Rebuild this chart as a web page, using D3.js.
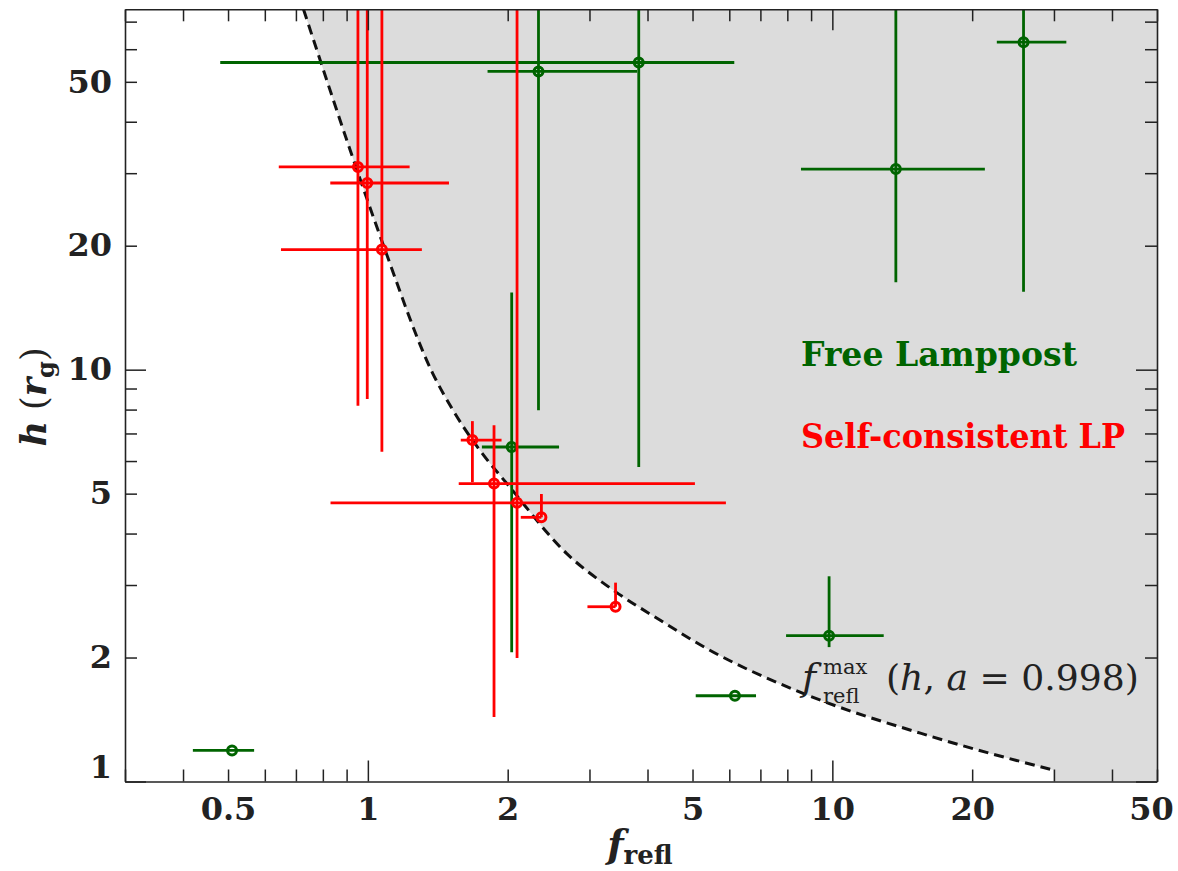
<!DOCTYPE html>
<html>
<head>
<meta charset="utf-8">
<script src="https://cdn.jsdelivr.net/npm/d3@7"></script>
<style>
  body { margin: 0; background: #fff; }
  svg { display: block; }
  text { fill: #222; }
</style>
</head>
<body>
<svg id="chart" width="1178" height="871"></svg>
<script>
// Free lamppost fits: reflection fraction, source height and their error ranges
const freeF   = [0.51, 6.17, 9.84, 2.04, 2.33, 3.83, 13.7, 25.8];
const freeH   = [1.19, 1.615, 2.26, 6.49, 53.0, 55.7, 30.7, 62.4];
const freeFLo = [0.42, 5.08, 7.95, 1.76, 1.81, 0.481, 8.56, 22.6];
const freeFHi = [0.569, 6.85, 12.9, 2.58, 3.80, 6.15, 21.3, 31.9];
const freeHLo = [1.19, 1.615, 2.12, 2.06, 7.97, 5.80, 16.3, 15.45];
const freeHHi = [1.19, 1.615, 3.15, 15.4, 100, 100, 100, 100];

// Self-consistent lamppost fits
const scF   = [0.952, 0.997, 1.072, 1.679, 1.869, 2.095, 2.364, 3.414];
const scH   = [31.06, 28.4, 19.57, 6.745, 5.29, 4.75, 4.38, 2.657];
const scFLo = [0.643, 0.83, 0.65, 1.585, 1.569, 0.831, 2.134, 2.97];
const scFHi = [1.23, 1.495, 1.307, 1.94, 5.06, 5.9, 2.364, 3.414];
const scHLo = [8.17, 8.49, 6.32, 5.33, 1.434, 1.994, 4.38, 2.657];
const scHHi = [100, 100, 100, 7.5, 7.33, 100, 4.99, 3.04];

// Maximum reflection fraction f_refl^max(h) for a = 0.998
const curveF = [0.727, 0.975, 1.086, 1.379, 1.525, 1.741, 2.02, 2.677, 3.373, 4.253, 5.36, 8.65, 16.38, 29.9];
const curveH = [74.9, 27.8, 19.7, 9.8, 7.97, 6.38, 5.19, 3.58, 2.916, 2.466, 2.105, 1.637, 1.285, 1.066];

// Axis ticks
const xTicks  = [0.3, 0.4, 0.5, 0.6, 0.7, 0.8, 0.9, 1, 2, 3, 4, 5, 6, 7, 8, 9, 10, 20, 30, 40, 50];
const xMajor  = [1, 10];
const xLabels = [0.5, 1, 2, 5, 10, 20, 50];
const yTicks  = [1, 2, 3, 4, 5, 6, 7, 8, 9, 10, 20, 30, 40, 50, 60, 70];
const yMajor  = [1, 10];
const yLabels = [1, 2, 5, 10, 20, 50];

const svg = d3.select("#chart");
const L = 125, R = 1157, T = 9.3, B = 781.5;
const x = d3.scaleLog().domain([0.3, 50]).range([L, R]);
const y = d3.scaleLog().domain([1, 75]).range([B, T]);

const GREEN = "#006400", RED = "#ff0000";

svg.append("defs").append("clipPath").attr("id", "plot")
  .append("rect").attr("x", L).attr("y", T).attr("width", R - L).attr("height", B - T);

const plot = svg.append("g").attr("clip-path", "url(#plot)");

// Excluded region beyond the maximum reflection fraction
const curvePts = curveF.map((f, i) => [f, curveH[i]]);
const line = d3.line().x(d => x(d[0])).y(d => y(d[1])).curve(d3.curveMonotoneX);
const endF = curveF[curveF.length - 1];
const corners = [[endF, 1], [50, 1], [50, 75]];
const shadePath = line(curvePts) + corners.map(c => "L" + x(c[0]) + "," + y(c[1])).join("") + "Z";
plot.append("path").attr("d", shadePath).attr("fill", "#dcdcdc").attr("stroke", "none");
plot.append("path").attr("d", line(curvePts)).attr("fill", "none")
  .attr("stroke", "#111").attr("stroke-width", 3).attr("stroke-dasharray", "10,6");

// Error bars and markers
function drawSeries(F, Hh, FLo, FHi, HLo, HHi, color) {
  const g = plot.append("g");
  const pts = F.map((f, i) => ({ f, h: Hh[i], fl: FLo[i], fh: FHi[i], hl: HLo[i], hh: HHi[i] }));
  g.selectAll(".xe").data(pts).join("line")
    .attr("x1", d => x(d.fl)).attr("x2", d => x(d.fh))
    .attr("y1", d => y(d.h)).attr("y2", d => y(d.h))
    .attr("stroke", color).attr("stroke-width", 2.8);
  g.selectAll(".ye").data(pts.filter(d => d.hh > d.hl)).join("line")
    .attr("x1", d => x(d.f)).attr("x2", d => x(d.f))
    .attr("y1", d => y(d.hl)).attr("y2", d => y(d.hh))
    .attr("stroke", color).attr("stroke-width", 2.8);
  g.selectAll("circle").data(pts).join("circle")
    .attr("cx", d => x(d.f)).attr("cy", d => y(d.h)).attr("r", 4.5)
    .attr("fill", "none").attr("stroke", color).attr("stroke-width", 3);
}
drawSeries(freeF, freeH, freeFLo, freeFHi, freeHLo, freeHHi, GREEN);
drawSeries(scF, scH, scFLo, scFHi, scHLo, scHHi, RED);

// Axes
const FONT = "'DejaVu Serif', serif";
const fmt = d => String(d);
function styleAxis(g, majors, k, horizontal) {
  g.select(".domain").attr("stroke", "#222").attr("stroke-width", 1.6);
  g.selectAll(".tick line").attr("stroke", "#222").attr("stroke-width", 1.5)
    .filter(d => majors.includes(d))
    .attr(horizontal ? "y2" : "x2", k * 21);
  g.selectAll(".tick text").attr("font-family", FONT).attr("font-weight", "bold")
    .attr("font-size", 32).attr("fill", "#222");
}
const xb = svg.append("g").attr("transform", `translate(0,${B})`)
  .call(d3.axisBottom(x).tickValues(xTicks).tickSizeInner(-12).tickSizeOuter(0).tickPadding(16)
    .tickFormat(d => xLabels.includes(d) ? fmt(d) : ""));
styleAxis(xb, xMajor, -1, true);
// keep the last label inside the page edge
xb.selectAll(".tick text").filter(d => d === 50).attr("dx", -6);
const xt = svg.append("g").attr("transform", `translate(0,${T})`)
  .call(d3.axisTop(x).tickValues(xTicks).tickSizeInner(-12).tickSizeOuter(0).tickFormat(""));
styleAxis(xt, xMajor, 1, true);
const yl = svg.append("g").attr("transform", `translate(${L},0)`)
  .call(d3.axisLeft(y).tickValues(yTicks).tickSizeInner(-12).tickSizeOuter(0).tickPadding(13)
    .tickFormat(d => yLabels.includes(d) ? fmt(d) : ""));
styleAxis(yl, yMajor, 1, false);
yl.selectAll(".tick text").filter(d => d === 1).attr("dy", "-0.14em");
const yr = svg.append("g").attr("transform", `translate(${R},0)`)
  .call(d3.axisRight(y).tickValues(yTicks).tickSizeInner(-12).tickSizeOuter(0).tickFormat(""));
styleAxis(yr, yMajor, -1, false);

// Axis titles
const xTitle = svg.append("text").attr("x", 640).attr("y", 857).attr("text-anchor", "middle")
  .attr("font-family", FONT).attr("font-weight", "bold");
xTitle.append("tspan").attr("font-style", "italic").attr("font-size", 38).text("f");
xTitle.append("tspan").attr("font-size", 26).attr("dy", 7).text("refl");

const yTitle = svg.append("text").attr("transform", "translate(46,397) rotate(-90)")
  .attr("text-anchor", "middle").attr("font-family", FONT).attr("font-weight", "bold").attr("font-size", 35);
yTitle.append("tspan").attr("font-style", "italic").text("h");
yTitle.append("tspan").attr("font-weight", "normal").text(" (");
yTitle.append("tspan").attr("font-style", "italic").text("r");
yTitle.append("tspan").attr("font-size", 24).attr("dy", 8).text("g");
yTitle.append("tspan").attr("font-weight", "normal").attr("dy", -8).text(")");

// Series labels
svg.append("text").attr("x", 801).attr("y", 365.5).attr("font-family", FONT).attr("font-weight", "bold")
  .attr("font-size", 34).attr("textLength", 276).attr("lengthAdjust", "spacingAndGlyphs")
  .style("fill", GREEN).text("Free Lamppost");
svg.append("text").attr("x", 801).attr("y", 448).attr("font-family", FONT).attr("font-weight", "bold")
  .attr("font-size", 34).attr("textLength", 324).attr("lengthAdjust", "spacingAndGlyphs")
  .style("fill", RED).text("Self-consistent LP");

// Curve annotation
const ann = svg.append("g").attr("font-family", FONT);
ann.append("text").attr("x", 802).attr("y", 690).attr("font-size", 38).attr("font-style", "italic").text("f");
ann.append("text").attr("x", 823).attr("y", 674).attr("font-size", 21).text("max");
ann.append("text").attr("x", 823).attr("y", 703).attr("font-size", 21).text("refl");
const par = ann.append("text").attr("x", 886).attr("y", 690).attr("font-size", 35)
  .attr("textLength", 253).attr("lengthAdjust", "spacingAndGlyphs");
par.append("tspan").text("(");
par.append("tspan").attr("font-style", "italic").text("h");
par.append("tspan").text(", ");
par.append("tspan").attr("font-style", "italic").text("a");
par.append("tspan").text(" = 0.998)");
</script>
</body>
</html>
